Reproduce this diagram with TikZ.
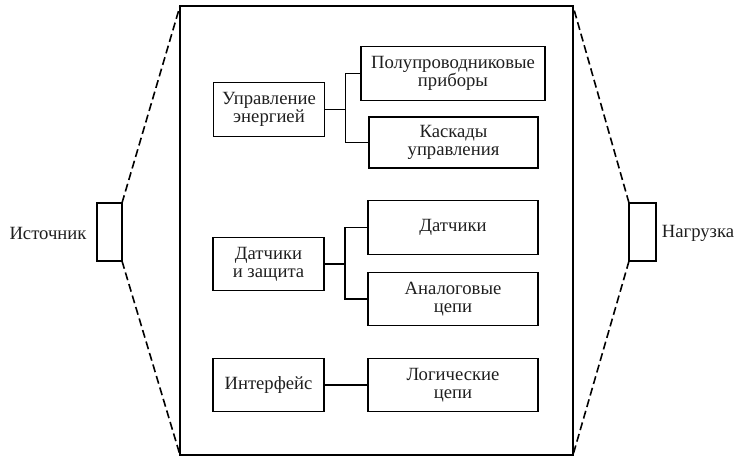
\documentclass[tikz,border=0pt]{standalone}
\usepackage{fontspec}
\setmainfont{Liberation Serif}
\begin{document}
\begin{tikzpicture}[x=0.75pt,y=-0.75pt,
  every node/.style={outer sep=0pt,inner sep=0pt,font=\fontsize{14}{13.6}\selectfont,text=black!88},
  blk/.style={draw,line width=0.9pt,align=center,minimum height=40pt},
  conn/.style={line width=1.1pt},
  dsh/.style={line width=1.2pt,dash pattern=on 6pt off 3pt}]
\useasboundingbox (0,0) rectangle (752,467);
\node[draw,line width=1.1pt,minimum width=294.75pt,minimum height=336.75pt] (main) at (376.5,230.5) {};
\node[draw,line width=0.8pt,minimum width=18.75pt,minimum height=43.5pt] (src) at (109.5,232) {};
\node[draw,line width=0.8pt,minimum width=20.25pt,minimum height=43.5pt] (load) at (642.5,232) {};
\draw[line width=1.3pt] (src.north east) -- (src.south east);
\draw[line width=1.3pt] (load.north west) -- (load.south west);
\node (srct) at (48,233) {Источник};
\node (loadt) at (698,233) {Нагрузка};
\draw[dsh] (src.north east) -- (main.north west);
\draw[dsh] (src.south east) -- (main.south west);
\draw[dsh] (load.north west) -- (main.north east);
\draw[dsh] (load.south west) -- (main.south east);
% inner blocks
\node[blk,minimum width=83.25pt] (upr) at (269,109.5) {Управление\\энергией};
\node[blk,minimum width=138pt] (pol) at (453,73.5) {Полупроводниковые\\приборы};
\node[blk,minimum width=126.75pt,minimum height=38.25pt] (kas) at (453.5,142.5) {Каскады\\управления};
\node[blk,minimum width=83.25pt] (dz) at (268.5,264) {Датчики\\и защита};
\node[blk,minimum width=127.5pt] (dat) at (453,227.5) {Датчики};
\node[blk,minimum width=127.5pt] (ana) at (453,299) {Аналоговые\\цепи};
\node[blk,minimum width=83.25pt] (int) at (268.5,385) {Интерфейс};
\node[blk,minimum width=127.5pt] (log) at (453,385) {Логические\\цепи};
% connectors
\path (upr.east) ++(21,0) coordinate (j1);
\draw[conn] (upr.east) -- (j1);
\draw[conn] (pol.west) -| (j1) |- (kas.west);
\path (dz.east) ++(21,0) coordinate (j2);
\draw[conn] (dz.east) -- (j2);
\draw[conn] (dat.west) -| (j2) |- (ana.west);
\draw[conn] (int.east) -- (log.west);
\end{tikzpicture}
\end{document}
